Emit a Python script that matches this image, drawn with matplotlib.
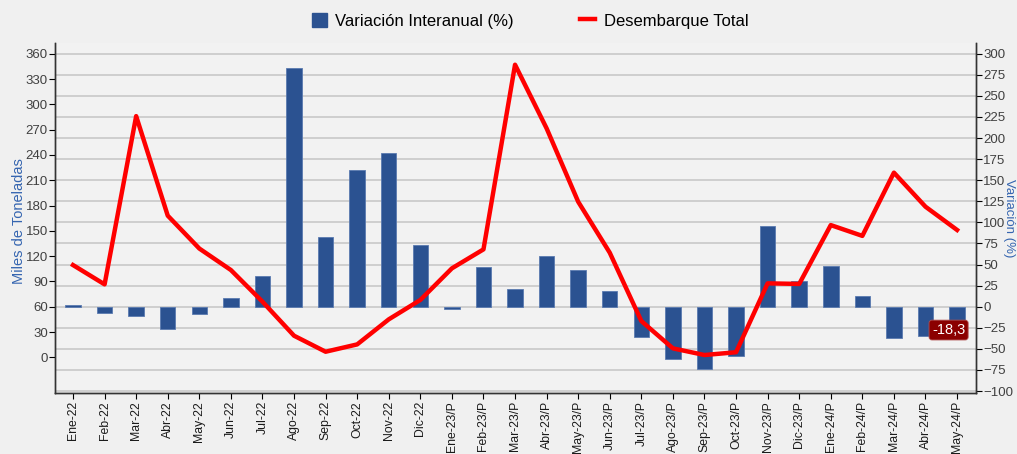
import matplotlib.pyplot as plt
from matplotlib.patches import Patch
from matplotlib.lines import Line2D
import numpy as np

plt.rcParams['font.family'] = ['Liberation Sans', 'DejaVu Sans']

meses = ['Ene-22', 'Feb-22', 'Mar-22', 'Abr-22', 'May-22', 'Jun-22', 'Jul-22',
         'Ago-22', 'Sep-22', 'Oct-22', 'Nov-22', 'Dic-22',
         'Ene-23/P', 'Feb-23/P', 'Mar-23/P', 'Abr-23/P', 'May-23/P', 'Jun-23/P',
         'Jul-23/P', 'Ago-23/P', 'Sep-23/P', 'Oct-23/P', 'Nov-23/P', 'Dic-23/P',
         'Ene-24/P', 'Feb-24/P', 'Mar-24/P', 'Abr-24/P', 'May-24/P']

# variacion interanual (%), eje derecho
variacion = [2, -8, -10.7, -27, -8.7, 10, 36, 283, 83, 162, 182, 72.7,
             -3, 46.6, 21, 60.5, 43, 18.6, -35.6, -62.5, -74, -59, 95.7, 30.8,
             48, 12.6, -36.8, -34.4, -18.3]

# desembarque total (miles de toneladas), eje izquierdo
desembarque = [109.4, 86.5, 286, 168, 129, 103.5, 66, 25.6, 6.6, 15.3, 45, 68,
               105.5, 128, 347, 271.5, 184.5, 124, 43, 10.6, 2.7, 6, 87.7, 87,
               156.8, 144, 219, 178.6, 151]

x = np.arange(len(meses))

fig = plt.figure(figsize=(10.17, 4.54), dpi=100)
fig.patch.set_facecolor('#f0f0f0')

ax = fig.add_axes([0.0541, 0.135, 0.9056, 0.77])
ax2 = ax.twinx()

# linea por encima de las barras
ax.set_zorder(ax2.get_zorder() + 1)
ax.patch.set_visible(False)
ax2.patch.set_visible(True)
ax2.patch.set_facecolor('#f2f2f2')

ax2.bar(x, variacion, width=0.49, color='#2b5291', edgecolor='#5a7ab0',
        linewidth=0.6, zorder=3)
ax.plot(x, desembarque, color='#ff0000', linewidth=3.2, zorder=4,
        solid_joinstyle='round')

ax.set_xlim(-0.57, 28.6)
ax.set_ylim(-42, 372.6)
ax2.set_ylim(-102, 312.6)

ax.set_yticks(np.arange(0, 361, 30))
ax2.set_yticks(np.arange(-100, 301, 25))
ax.set_xticks(x)
ax.set_xticklabels(meses, rotation=90, fontsize=8.8, color='#1a1a1a')

ax2.yaxis.grid(True, color='#c8c8c8', linewidth=1.2, zorder=0)
ax2.set_axisbelow(True)

for a in (ax, ax2):
    a.tick_params(axis='y', labelsize=9.5, labelcolor='#404040', length=4,
                  width=0.8, pad=1.2)
    a.spines['top'].set_visible(False)
    for s in ('left', 'right', 'bottom'):
        a.spines[s].set_color('#333333')
        a.spines[s].set_linewidth(1.0)
ax.tick_params(axis='x', length=4, width=0.8, pad=2)

ax.set_ylabel('Miles de Toneladas', color='#3565b0', fontsize=10.5)
ax.yaxis.set_label_coords(-0.0315, 0.49)
fig.text(0.9925, 0.52, 'Variación (%)', rotation=270, color='#3565b0',
         fontsize=9.5, ha='center', va='center')

ax2.annotate('-18,3', xy=(x[-1], variacion[-1]), xytext=(-6.1, -5.7),
             textcoords='offset points', ha='center', va='center',
             fontsize=10.5, color='white', zorder=6,
             bbox=dict(boxstyle='round,pad=0.2', fc='#8b0000', ec='#b05050',
                       lw=0.6))

handles = [Patch(facecolor='#2b5291', edgecolor='#2b5291'),
           Line2D([0], [0], color='#ff0000', linewidth=3.2)]
fig.legend(handles, ['Variación Interanual (%)', 'Desembarque Total'],
           loc='center', bbox_to_anchor=(0.521, 0.954), ncol=2, frameon=False,
           fontsize=12, handlelength=0.9, handleheight=0.9, handletextpad=0.5,
           columnspacing=4.0)

fig.savefig('out.png', dpi=100, facecolor=fig.get_facecolor())
